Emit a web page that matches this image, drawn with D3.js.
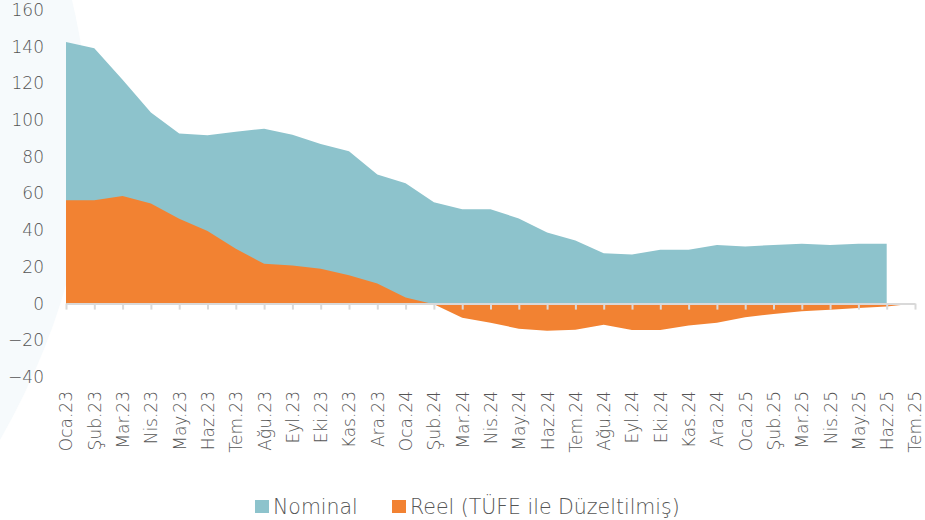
<!DOCTYPE html>
<html>
<head>
<meta charset="utf-8">
<script src="https://cdn.jsdelivr.net/npm/d3@7"></script>
<style>
  body { margin: 0; background: #fff; }
  text { font-family: "DejaVu Sans", "Liberation Sans", sans-serif; font-weight: 300; fill: #555; }
</style>
</head>
<body>
<div id="chart"></div>
<script>
////////////////////////////////////////////////////////////////////////
// Data

let months = [
  "Oca.23", "Şub.23", "Mar.23", "Nis.23", "May.23", "Haz.23", "Tem.23", "Ağu.23",
  "Eyl.23", "Eki.23", "Kas.23", "Ara.23", "Oca.24", "Şub.24", "Mar.24", "Nis.24",
  "May.24", "Haz.24", "Tem.24", "Ağu.24", "Eyl.24", "Eki.24", "Kas.24", "Ara.24",
  "Oca.25", "Şub.25", "Mar.25", "Nis.25", "May.25", "Haz.25", "Tem.25"
];

let nominal = [
  142.5, 139.2, 122, 104.2, 92.7, 91.8, 93.6, 95.3,
  92, 87, 83, 70.3, 65.6, 55.2, 51.4, 51.4,
  46.4, 38.8, 34.4, 27.5, 26.8, 29.3, 29.3, 31.9,
  31.1, 32, 32.6, 32, 32.6, 32.6, null
];

let real = [
  56.3, 56.3, 58.6, 54.5, 46.3, 39.5, 29.9, 21.7,
  20.8, 19, 15.5, 11, 3.3, -0.4, -7.7, -10.4,
  -13.7, -14.8, -14.2, -11.5, -14.4, -14.4, -12, -10.4,
  -7.5, -5.6, -4.2, -3.3, -2.4, -1.6, 0
];

let yTicks = [-40, -20, 0, 20, 40, 60, 80, 100, 120, 140, 160];

let seriesNames = ["Nominal", "Reel (TÜFE ile Düzeltilmiş)"];
let seriesColors = ["#8dc3cc", "#f28232"];

////////////////////////////////////////////////////////////////////////
// SVG

let width = 925;
let height = 520;

let svg = d3.select("#chart")
  .append("svg")
  .attr("width", width).attr("height", height);

// faint decorative shape on the left
svg.append("path")
  .attr("d", "M0,0 L72,0 Q125,220 0,440 Z")
  .style("fill", "#f6fafc");

let xScale = d3.scalePoint()
  .domain(months)
  .range([66, 915]);

let yScale = d3.scaleLinear()
  .domain([-40, 160])
  .range([377, 10]);

function areaFor(values) {
  return d3.area()
    .defined(function(d, i) { return values[i] != null; })
    .x(function(d) { return xScale(d); })
    .y0(yScale(0))
    .y1(function(d, i) { return yScale(values[i]); })(months);
}

// areas: nominal behind, real on top
[nominal, real].forEach(function(values, i) {
  svg.append("path")
    .attr("class", "area")
    .attr("d", areaFor(values))
    .style("fill", seriesColors[i]);
});

// y axis labels (no line)
let yAxis = d3.axisLeft(yScale)
  .tickValues(yTicks)
  .tickSize(0)
  .tickPadding(0);

let gy = svg.append("g")
  .attr("transform", "translate(44,0)")
  .call(yAxis);
gy.select(".domain").remove();
gy.selectAll("text")
  .style("font-size", "17px")
  .style("fill", "#555");

// x axis on the zero line
let xAxis = d3.axisBottom(xScale)
  .tickSizeInner(6)
  .tickSizeOuter(0);

let gx = svg.append("g")
  .attr("transform", "translate(0," + yScale(0) + ")")
  .call(xAxis);
gx.select(".domain").style("stroke", "#d9d9d9").style("stroke-width", 2);
gx.selectAll(".tick line").style("stroke", "#d9d9d9").style("stroke-width", 2);
gx.selectAll("text")
  .attr("transform", "rotate(-90)")
  .attr("text-anchor", "end")
  .attr("x", -(391 - yScale(0)))
  .attr("y", 0)
  .attr("dy", "0.35em")
  .style("font-size", "17px")
  .style("fill", "#555");

// legend
let legendX = [255, 392];
seriesNames.forEach(function(name, i) {
  svg.append("rect")
    .attr("x", legendX[i]).attr("y", 500)
    .attr("width", 14).attr("height", 13)
    .style("fill", seriesColors[i]);
  svg.append("text")
    .attr("x", legendX[i] + 18).attr("y", 514)
    .style("font-size", "20.5px")
    .text(name);
});
</script>
</body>
</html>
